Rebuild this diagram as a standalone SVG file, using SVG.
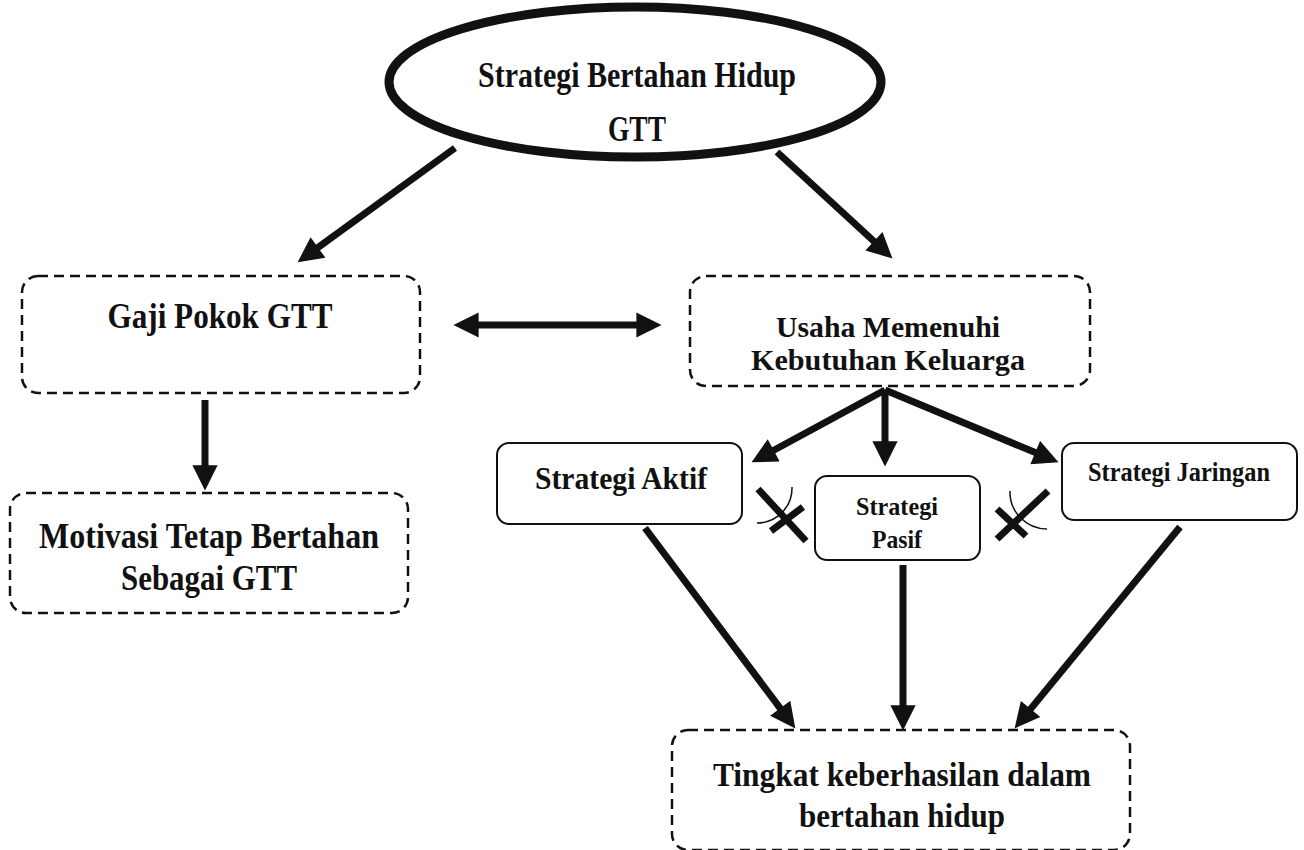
<svg xmlns="http://www.w3.org/2000/svg" width="1304" height="850" viewBox="0 0 1304 850">
<style>
  text { font-family: "Liberation Serif", "Times New Roman", serif; font-weight: bold; fill: #111; text-anchor: middle; }
  .dash { fill: none; stroke: #111; stroke-width: 2.5; stroke-dasharray: 10 6; }
  .solid { fill: #fff; stroke: #111; stroke-width: 2; }
  .arr { stroke: #111; stroke-width: 7; fill: none; marker-end: url(#head); }
  .x { stroke: #111; stroke-width: 7; fill: none; }
  .arc { stroke: #111; stroke-width: 1.5; fill: none; }
</style>
<defs>
  <marker id="head" viewBox="0 0 10 10" refX="7" refY="5" markerWidth="3.8" markerHeight="3.6" markerUnits="strokeWidth" orient="auto-start-reverse">
    <path d="M0,0 L10,5 L0,10 z" fill="#111"/>
  </marker>
</defs>
<rect width="1304" height="850" fill="#fff"/>

<g id="connectors">
  <line class="arr" x1="455" y1="148" x2="303.7" y2="257.9"/>
  <line class="arr" x1="777" y1="152" x2="886.9" y2="253.3"/>
  <line class="arr" x1="461" y1="325" x2="654" y2="325" style="marker-start:url(#head)"/>
  <line class="arr" x1="205" y1="400" x2="205" y2="483"/>
  <line class="arr" x1="885" y1="390" x2="758.2" y2="458.7"/>
  <line class="arr" x1="885" y1="390" x2="885" y2="459"/>
  <line class="arr" x1="885" y1="390" x2="1051.5" y2="459.3"/>
  <line class="arr" x1="645" y1="528" x2="790.8" y2="722.4"/>
  <line class="arr" x1="903" y1="565" x2="903" y2="723"/>
  <line class="arr" x1="1180" y1="527" x2="1019.4" y2="722.6"/>
  <g id="block-left">
    <line class="x" x1="758" y1="489" x2="806" y2="541"/>
    <line class="x" x1="803" y1="507" x2="771" y2="531"/>
    <path class="arc" d="M792,487 A35,35 0 0 1 757,523"/>
  </g>
  <g id="block-right">
    <line class="x" x1="1048" y1="491" x2="997" y2="539"/>
    <line class="x" x1="997" y1="509" x2="1026" y2="536"/>
    <path class="arc" d="M1010,491 A37,37 0 0 0 1047,529"/>
  </g>
</g>

<g id="node-strategi-bertahan">
  <ellipse cx="635" cy="82" rx="246" ry="75" fill="#fff" stroke="#111" stroke-width="9"/>
  <text x="637" y="87" font-size="35" textLength="318" lengthAdjust="spacingAndGlyphs">Strategi Bertahan Hidup</text>
  <text x="637" y="141" font-size="35" textLength="58" lengthAdjust="spacingAndGlyphs">GTT</text>
</g>

<g id="node-gaji">
  <rect class="dash" x="22" y="276" width="398" height="117" rx="16"/>
  <text x="220" y="328" font-size="35" textLength="225" lengthAdjust="spacingAndGlyphs">Gaji Pokok GTT</text>
</g>

<g id="node-usaha">
  <rect class="dash" x="690" y="276" width="400" height="110" rx="16"/>
  <text x="888" y="337" font-size="29" textLength="224" lengthAdjust="spacingAndGlyphs">Usaha Memenuhi</text>
  <text x="888" y="370" font-size="29" textLength="274" lengthAdjust="spacingAndGlyphs">Kebutuhan Keluarga</text>
</g>

<g id="node-motivasi">
  <rect class="dash" x="10" y="493" width="398" height="120" rx="16"/>
  <text x="209" y="548" font-size="36" textLength="340" lengthAdjust="spacingAndGlyphs">Motivasi Tetap Bertahan</text>
  <text x="209" y="590" font-size="36" textLength="176" lengthAdjust="spacingAndGlyphs">Sebagai GTT</text>
</g>

<g id="node-aktif">
  <rect class="solid" x="497" y="443" width="245" height="81" rx="12"/>
  <text x="621" y="489" font-size="31" textLength="172" lengthAdjust="spacingAndGlyphs">Strategi Aktif</text>
</g>

<g id="node-pasif">
  <rect class="solid" x="815" y="476" width="165" height="84" rx="12"/>
  <text x="897" y="515" font-size="26" textLength="82" lengthAdjust="spacingAndGlyphs">Strategi</text>
  <text x="897" y="548" font-size="26" textLength="50" lengthAdjust="spacingAndGlyphs">Pasif</text>
</g>

<g id="node-jaringan">
  <rect class="solid" x="1062" y="443" width="235" height="77" rx="12"/>
  <text x="1179" y="481" font-size="27" textLength="182" lengthAdjust="spacingAndGlyphs">Strategi Jaringan</text>
</g>

<g id="node-tingkat">
  <rect class="dash" x="672" y="730" width="458" height="120" rx="16"/>
  <text x="902" y="786" font-size="34" textLength="378" lengthAdjust="spacingAndGlyphs">Tingkat keberhasilan dalam</text>
  <text x="902" y="827" font-size="34" textLength="206" lengthAdjust="spacingAndGlyphs">bertahan hidup</text>
</g>
</svg>
